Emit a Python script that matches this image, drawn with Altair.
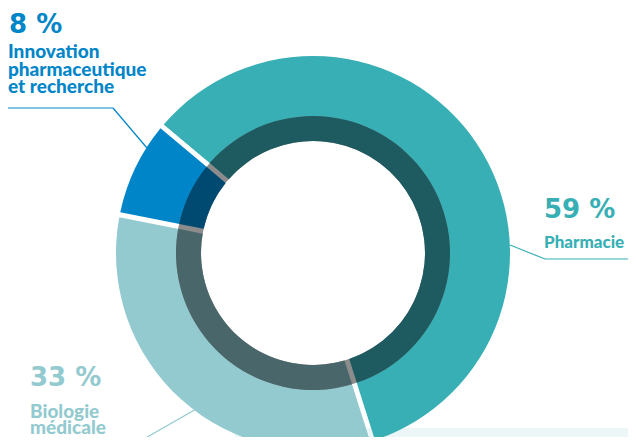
import math
import altair as alt
import pandas as pd

categories = ["Pharmacie", "Biologie médicale", "Innovation pharmaceutique et recherche"]
values = [59, 33, 8]
outer_colors = ["#38AFB4", "#93CACF", "#0085C8"]
inner_colors = ["#1D5B61", "#49676B", "#004A72"]
pct_labels = ["59 %", "33 %", "8 %"]
name_lines = [["Pharmacie"], ["Biologie", "médicale"], ["Innovation", "pharmaceutique", "et recherche"]]

df = pd.DataFrame({
    "cat": categories,
    "value": values,
    "outer": outer_colors,
    "inner": inner_colors,
    "idx": list(range(len(categories))),
})

CX, CY = 305, 245
start = math.radians(310)
theta_scale = alt.Scale(range=[start, start + 2 * math.pi])

base = alt.Chart(df)

outer = base.mark_arc(radius=197, radius2=130, padAngle=0.021).encode(
    theta=alt.Theta("value:Q", stack=True, scale=theta_scale),
    color=alt.Color("outer:N", scale=None),
    order=alt.Order("idx:Q"),
    x=alt.value(CX), y=alt.value(CY),
)

gray_ring = alt.Chart(alt.Data(values=[{"a": 1}])).mark_arc(
    radius=137, radius2=112, theta=0, theta2=2 * math.pi, color="#8C8C8C"
).encode(x=alt.value(CX), y=alt.value(CY))

inner = base.mark_arc(radius=137, radius2=112, padAngle=0.028).encode(
    theta=alt.Theta("value:Q", stack=True, scale=theta_scale),
    color=alt.Color("inner:N", scale=None),
    order=alt.Order("idx:Q"),
    x=alt.value(CX), y=alt.value(CY),
)

bg_rect = alt.Chart(alt.Data(values=[{"a": 1}])).mark_rect(color="#EDF6F6").encode(
    x=alt.value(227), x2=alt.value(640), y=alt.value(420), y2=alt.value(450)
)

def rule(x1, y1, x2, y2, color):
    return alt.Chart(alt.Data(values=[{"a": 1}])).mark_rule(color=color, strokeWidth=1.2).encode(
        x=alt.value(x1), x2=alt.value(x2), y=alt.value(y1), y2=alt.value(y2)
    )

lines = [
    rule(0, 100, 105, 100, outer_colors[2]),
    rule(105, 100, 139, 140, outer_colors[2]),
    rule(502, 237, 537, 251, outer_colors[0]),
    rule(537, 251, 630, 251, outer_colors[0]),
    rule(190, 400, 120, 440, outer_colors[1]),
]

NAME_FONT = "Lato"
PCT_FONT = "DejaVu Sans"

def pct(text, x, y, color):
    return alt.Chart(alt.Data(values=[{"t": text}])).mark_text(
        align="left", baseline="alphabetic", font=PCT_FONT, fontWeight="bold",
        fontSize=26, color=color
    ).encode(text="t:N", x=alt.value(x), y=alt.value(y))

def name(lines_, x, y, color, size, lh):
    t = lines_ if len(lines_) > 1 else lines_[0]
    return alt.Chart(alt.Data(values=[{"t": t}])).mark_text(
        align="left", baseline="alphabetic", font=NAME_FONT, fontWeight=900,
        fontSize=size, lineHeight=lh, color=color
    ).encode(text="t:N", x=alt.value(x), y=alt.value(y))

texts = [
    pct(pct_labels[2], 1, 25, outer_colors[2]),
    name(name_lines[2], 0, 50, outer_colors[2], 19, 17.5),
    pct(pct_labels[0], 536, 210, outer_colors[0]),
    name(name_lines[0], 536, 240, outer_colors[0], 17, 17),
    pct(pct_labels[1], 22, 378, outer_colors[1]),
    name(name_lines[1], 22, 410, outer_colors[1], 19, 16),
]

chart = alt.layer(bg_rect, outer, gray_ring, inner, *lines, *texts).properties(
    width=620, height=429, padding=0, autosize=alt.AutoSizeParams(type="none")
).configure_view(strokeWidth=0)

chart.save("out.html", embed_options={"renderer": "svg", "actions": False})
